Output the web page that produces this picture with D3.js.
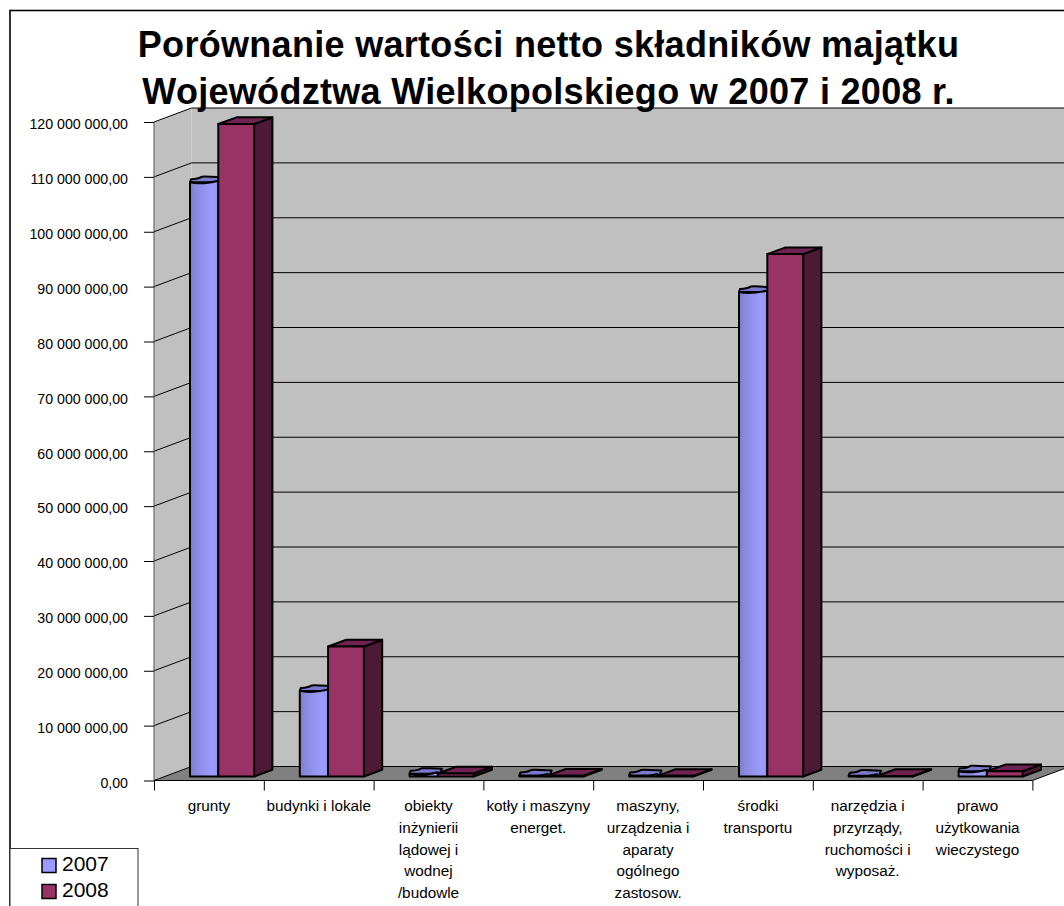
<!DOCTYPE html>
<html><head><meta charset="utf-8">
<script src="https://cdnjs.cloudflare.com/ajax/libs/d3/7.8.5/d3.min.js"></script>
<style>html,body{margin:0;padding:0;background:#fff}svg{display:block}text{font-family:"Liberation Sans",Arial,sans-serif;fill:#000}</style>
</head><body><div id="c"></div>
<script>
const categories=[["grunty"],["budynki i lokale"],["obiekty","inżynierii","lądowej i","wodnej","/budowle"],["kotły i maszyny","energet."],["maszyny,","urządzenia i","aparaty","ogólnego","zastosow."],["środki","transportu"],["narzędzia i","przyrządy,","ruchomości i","wyposaż."],["prawo","użytkowania","wieczystego"]];
const series2007=[108300000,15600000,500000,200000,200000,88300000,150000,950000];
const series2008=[118900000,23700000,550000,150000,120000,95200000,100000,950000];
const yTicks=d3.range(0,130000000,10000000);
const years=["2007","2008"];
const titleLines=["Porównanie wartości netto składników majątku","Województwa Wielkopolskiego w 2007 i 2008 r."];

const W=1064,H=906;
const svg=d3.select("#c").append("svg").attr("width",W).attr("height",H);
const defs=svg.append("defs");
const g=defs.append("linearGradient").attr("id","cyl");
[[0,"#7f7fd0"],[0.35,"#8f8fe6"],[0.8,"#9c9cff"],[1,"#9494f2"]].forEach(s=>g.append("stop").attr("offset",s[0]).attr("stop-color",s[1]));

const x=d3.scaleBand().domain(d3.range(8)).range([154,1032.4]).padding(0);
const y=d3.scaleLinear().domain([0,120000000]).range([780.5,122]);
const DX=37.5,DY=-14;
const bx=18.3,by=-6.7;
const base=776.5;
const yb=v=>y(v)-(y(0)-base);
const pts=a=>a.map(p=>p.join(",")).join(" ");

svg.append("rect").attr("x",10).attr("y",10.5).attr("width",1100).attr("height",1000).attr("fill","#fff").attr("stroke","#000").attr("stroke-width",1.6);

const x0=x.range()[0],x1=x.range()[1];
svg.append("polygon").attr("points",pts([[x0+DX,y(120000000)+DY],[W+5,y(120000000)+DY],[W+5,y(0)+DY],[x0+DX,y(0)+DY]])).attr("fill","#c0c0c0");
svg.append("polygon").attr("points",pts([[x0,y(120000000)],[x0+DX,y(120000000)+DY],[x0+DX,y(0)+DY],[x0,y(0)]])).attr("fill","#c0c0c0");
svg.append("polygon").attr("points",pts([[x0,y(0)],[x0+DX,y(0)+DY],[W+5,y(0)+DY],[x1+DX,y(0)+DY],[x1,y(0)]])).attr("fill","#808080");

const grid=svg.append("g").attr("fill","none").attr("stroke","#000").attr("stroke-width",1);
yTicks.forEach(t=>{
  grid.append("polyline").attr("points",pts([[x0,y(t)],[x0+DX,y(t)+DY],[W+5,y(t)+DY]]));
});
grid.append("line").attr("x1",x1).attr("y1",y(0)).attr("x2",x1+DX).attr("y2",y(0)+DY);

const fmt=v=>d3.format(",.2f")(v).replace(/,/g," ").replace(".",",");
const ay=svg.append("g").attr("transform",`translate(${x0},0)`).call(d3.axisLeft(y).tickValues(yTicks).tickFormat(fmt).tickSize(10).tickPadding(16));
ay.select(".domain").attr("stroke","#555").attr("d",`M0,${y(120000000)}V${y(0)}`);
ay.selectAll("text").attr("font-size",14.2).attr("dy","0.48em").style("font-family",'"Liberation Sans",Arial,sans-serif');
const ax=d3.scaleLinear().domain([0,8]).range([x0,x1]);
const axg=svg.append("g").attr("transform",`translate(0,${y(0)})`).call(d3.axisBottom(ax).tickValues(d3.range(0,9)).tickFormat("").tickSize(10));
axg.select(".domain").attr("d",`M${x0},0H${x1}`).attr("stroke","#000");

categories.forEach((lines,i)=>{
  const t=svg.append("text").attr("text-anchor","middle").attr("font-size",15.3);
  lines.forEach((l,k)=>t.append("tspan").attr("x",ax(i+0.5)).attr("y",811+k*21.75).text(l));
});

const bars=svg.append("g").attr("stroke","#000").attr("stroke-width",2).attr("stroke-linejoin","round");
categories.forEach((c,i)=>{
  const cx=x(i);
  const h7=yb(series2007[i]),h8=yb(series2008[i]);
  const a=cx+36,b=a+28.3,d=b+35.8;
  bars.append("path").attr("fill","#7a7acc")
    .attr("d",`M${a},${h7}L${a+1},${h7-3}C${a+5},${h7-3} ${a+8},${h7-3} ${a+12},${h7-5.5}C${a+17},${h7-6} ${a+22},${h7-5} ${b+4},${h7-5}L${b+2},${h7}Z`);
  bars.append("path").attr("fill","url(#cyl)")
    .attr("d",`M${a},${h7}C${a+8},${h7+2} ${a+18},${h7+1} ${b},${h7-1.5}V${base}H${a}Z`);
  bars.append("polygon").attr("fill","#4d1a35").attr("points",pts([[d,h8],[d+bx,h8+by],[d+bx,base+by],[d,base]]));
  bars.append("polygon").attr("fill","#6f2350").attr("points",pts([[b,h8],[b+bx,h8+by],[d+bx,h8+by],[d,h8]]));
  bars.append("rect").attr("x",b).attr("y",h8).attr("width",d-b).attr("height",Math.max(0,base-h8)).attr("fill","#993366");
});

titleLines.forEach((l,i)=>svg.append("text").attr("x",548.5).attr("y",57+i*46.5).attr("text-anchor","middle")
  .attr("font-size",36).attr("font-weight","bold").attr("letter-spacing",0.3).text(l));

svg.append("rect").attr("x",10).attr("y",848.5).attr("width",128).attr("height",70).attr("fill","#fff").attr("stroke","#333").attr("stroke-width",1);
years.forEach((yr,i)=>{
  svg.append("rect").attr("x",42).attr("y",858.5+i*26).attr("width",14).attr("height",14).attr("fill",i?"#993366":"#9999ff").attr("stroke","#000").attr("stroke-width",1.5);
  svg.append("text").attr("x",62).attr("y",871+i*26).attr("font-size",21).text(yr);
});
</script></body></html>
